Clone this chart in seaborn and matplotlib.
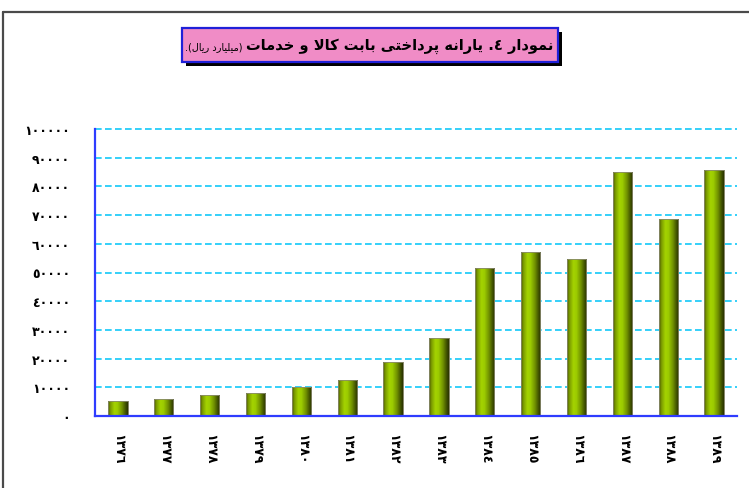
import numpy as np
import pandas as pd
import matplotlib
matplotlib.use("Agg")
import matplotlib.pyplot as plt
import seaborn as sns
from matplotlib.colors import LinearSegmentedColormap
from matplotlib.patches import Rectangle
from matplotlib.lines import Line2D

# ---------------- data ----------------
years = ["١٣٧٦", "١٣٧٧", "١٣٧٨", "١٣٧٩", "١٣٨٠", "١٣٨١", "١٣٨٢",
         "١٣٨٣", "١٣٨٤", "١٣٨٥", "١٣٨٦", "١٣٨٧", "١٣٨٨", "١٣٨٩"]
values = [5300, 5900, 7400, 7900, 10000, 12600, 18900,
          27100, 51600, 57100, 54700, 85100, 68500, 85600]
yticks = [0, 10000, 20000, 30000, 40000, 50000, 60000, 70000, 80000, 90000, 100000]
ytick_labels = ["٠", "١٠٠٠٠", "٢٠٠٠٠", "٣٠٠٠٠", "٤٠٠٠٠", "٥٠٠٠٠",
                "٦٠٠٠٠", "٧٠٠٠٠", "٨٠٠٠٠", "٩٠٠٠٠", "١٠٠٠٠٠"]
title_main = "نمودار ٤. یارانه پرداختی بابت کالا و خدمات"
title_unit = "(میلیارد ریال)."

# ---------------- simple Arabic/Persian shaping ----------------
FORMS = {
    'ا': ('\uFE8D', '\uFE8E', None, None),
    'ب': ('\uFE8F', '\uFE90', '\uFE91', '\uFE92'),
    'پ': ('\uFB56', '\uFB57', '\uFB58', '\uFB59'),
    'ت': ('\uFE95', '\uFE96', '\uFE97', '\uFE98'),
    'خ': ('\uFEA5', '\uFEA6', '\uFEA7', '\uFEA8'),
    'د': ('\uFEA9', '\uFEAA', None, None),
    'ر': ('\uFEAD', '\uFEAE', None, None),
    'ک': ('\uFB8E', '\uFB8F', '\uFB90', '\uFB91'),
    'ل': ('\uFEDD', '\uFEDE', '\uFEDF', '\uFEE0'),
    'م': ('\uFEE1', '\uFEE2', '\uFEE3', '\uFEE4'),
    'ن': ('\uFEE5', '\uFEE6', '\uFEE7', '\uFEE8'),
    'ه': ('\uFEE9', '\uFEEA', '\uFEEB', '\uFEEC'),
    'و': ('\uFEED', '\uFEEE', None, None),
    'ی': ('\uFBFC', '\uFBFD', '\uFBFE', '\uFBFF'),
    '\uE000': ('\uFEFB', '\uFEFC', None, None),  # lam-alef
}


def shape(text):
    t = text.replace('لا', '\uE000')
    out = []
    for i, ch in enumerate(t):
        if ch not in FORMS:
            out.append(ch)
            continue
        prev = t[i - 1] if i > 0 else ''
        nxt = t[i + 1] if i + 1 < len(t) else ''
        jp = prev in FORMS and FORMS[prev][2] is not None
        jn = FORMS[ch][2] is not None and nxt in FORMS
        iso, fin, ini, med = FORMS[ch]
        if jp and jn:
            out.append(med)
        elif jp:
            out.append(fin)
        elif jn:
            out.append(ini)
        else:
            out.append(iso)
    vis = ''.join(out)[::-1]
    vis = vis.translate(str.maketrans({'(': ')', ')': '('}))
    return vis


# ---------------- figure ----------------
W, H = 749, 489
sns.set_style("white")
plt.rcParams['font.family'] = ['DejaVu Sans']
fig = plt.figure(figsize=(W / 100, H / 100), dpi=100)
fig.patch.set_facecolor("white")


def fx(px):
    return px / W


def fy(py):
    return 1 - py / H


ax = fig.add_axes([fx(95), fy(417), fx(737) - fx(95), fy(130) - fy(417)])

df = pd.DataFrame({"year": years, "value": values})
sns.barplot(data=df, x="year", y="value", width=0.42, color="#8fbf00",
            edgecolor="#7a7a5a", linewidth=0.6, ax=ax, zorder=3)

ax.set_xlim(-0.5, len(years) - 0.5)
ax.set_ylim(0, 100000)

# cylinder-like gradient in each bar
cmap = LinearSegmentedColormap.from_list(
    "cyl", [(0.0, "#4a5800"), (0.12, "#7c9c00"), (0.32, "#a4d300"),
            (0.48, "#9ccb00"), (0.72, "#6d8c00"), (0.9, "#3e4e00"),
            (1.0, "#2a3300")])
grad = np.linspace(0, 1, 64).reshape(1, -1)
for p in list(ax.patches):
    x0, y0 = p.get_x(), p.get_y()
    w, h = p.get_width(), p.get_height()
    im = ax.imshow(grad, extent=[x0, x0 + w, y0, y0 + h], aspect="auto",
                   cmap=cmap, zorder=3.5, interpolation="bilinear")
    im.set_clip_path(p)
    ax.add_patch(Rectangle((x0, y0), w, h, fill=False, edgecolor="#8a8a70",
                           linewidth=0.6, zorder=3.6))
ax.set_xlim(-0.5, len(years) - 0.5)
ax.set_ylim(0, 100000)

# axes styling
blue = "#2f3cff"
for s in ["top", "right"]:
    ax.spines[s].set_visible(False)
for s in ["left", "bottom"]:
    ax.spines[s].set_color(blue)
    ax.spines[s].set_linewidth(1.6)
    ax.spines[s].set_zorder(5)

ax.set_yticks(yticks)
ax.set_yticklabels(ytick_labels, fontsize=9, fontweight="bold", color="black")
ax.tick_params(axis="y", direction="out", length=8, width=1.4, color=blue, pad=10)

ax.set_xticks(range(len(years)))
ax.set_xticklabels(years, rotation=270, fontsize=9, fontweight="bold",
                   color="black", va="top", ha="center")
ax.tick_params(axis="x", which="major", length=0, pad=12)
ax.set_xticks(np.arange(-0.5, len(years), 1.0), minor=True)
ax.tick_params(axis="x", which="minor", direction="out", length=8, width=1.4,
               color=blue)

ax.set_xlabel("")
ax.set_ylabel("")
ax.set_axisbelow(True)
ax.yaxis.grid(True, linestyle=(0, (4, 2)), color="#12c8f8", linewidth=1.2)
for gl in ax.get_ygridlines():
    gl.set_clip_on(False)
ax.xaxis.grid(False)

# outer chart frame (partially visible)
fig.add_artist(Line2D([fx(3), fx(3)], [0, fy(13)], color="#4a4a4a", lw=1.6))
fig.add_artist(Line2D([fx(3), 1], [fy(13), fy(13)], color="#4a4a4a", lw=1.6))

# title box with shadow
bx0, by0, bx1, by1 = 182, 29, 558, 63
fig.add_artist(Rectangle((fx(bx0 + 4), fy(by1 + 4)), fx(bx1 - bx0), fy(by0) - fy(by1),
                         facecolor="black", edgecolor="none", zorder=10))
fig.add_artist(Rectangle((fx(bx0), fy(by1)), fx(bx1 - bx0), fy(by0) - fy(by1),
                         facecolor="#f08cc6", edgecolor="#2020d8", lw=1.6, zorder=11))

t_main = fig.text(fx(553), fy(46), shape(title_main), ha="right", va="center",
                  fontsize=10.5, fontweight="bold", color="black", zorder=12)
fig.canvas.draw()
bb = t_main.get_window_extent()
t_unit = fig.text(bb.x0 / W - fx(3), fy(47), shape(title_unit), ha="right",
                  va="center", fontsize=7, color="black", zorder=12)

fig.savefig("out.png", dpi=100)
